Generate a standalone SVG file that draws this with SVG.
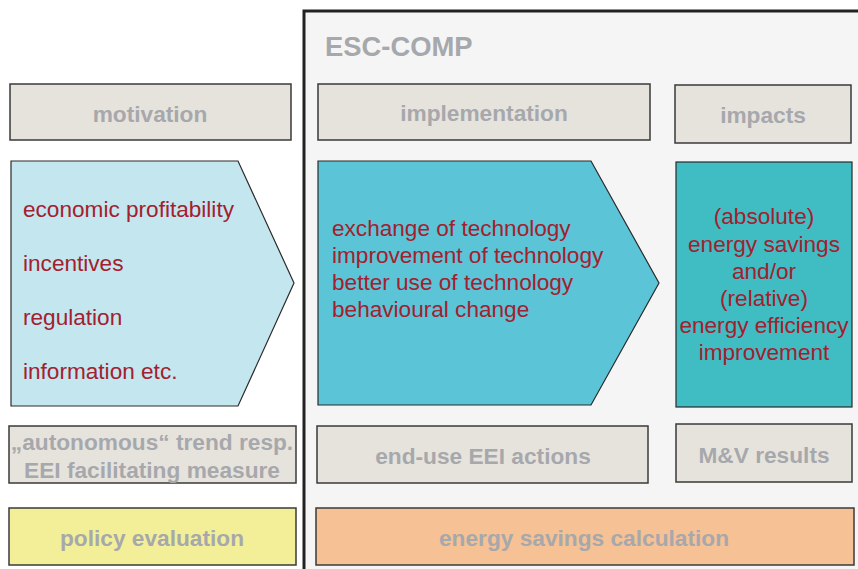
<svg xmlns="http://www.w3.org/2000/svg" width="858" height="569" viewBox="0 0 858 569">
<style>
.box{fill:#e6e3dd;stroke:#3a3a3a;stroke-width:1.5}
.hdr{font-family:"Liberation Sans",Arial,sans-serif;font-weight:bold;font-size:22.7px;fill:#a6a8ac;text-anchor:middle}
.red{font-family:"Liberation Sans",Arial,sans-serif;font-size:22.6px;fill:#a3202e}
.redc{font-family:"Liberation Sans",Arial,sans-serif;font-size:22.6px;fill:#a3202e;text-anchor:middle}
.shape{stroke:#2a2a2a;stroke-width:1.2}
</style>
<rect x="0" y="0" width="858" height="569" fill="#ffffff"/>
<g id="esc-comp">
<rect x="304" y="11" width="560" height="570" fill="#f5f5f5" stroke="#222" stroke-width="3"/>
<text x="325" y="56" font-family="Liberation Sans, Arial, sans-serif" font-weight="bold" font-size="27.4" fill="#a6a8ac">ESC-COMP</text>
</g>
<g id="motivation"><rect class="box" x="10" y="84" width="281" height="56"/><text class="hdr" x="150" y="122">motivation</text></g>
<g id="implementation"><rect class="box" x="318" y="84" width="332" height="56"/><text class="hdr" x="484" y="121">implementation</text></g>
<g id="impacts"><rect class="box" x="675" y="85" width="176" height="58"/><text class="hdr" x="763" y="123">impacts</text></g>
<g id="motivation-factors">
<polygon class="shape" points="11,161 238,161 294,283 238,406 11,406" fill="#c3e6ef"/>
<text class="red" x="23" y="217">economic profitability</text>
<text class="red" x="23" y="271">incentives</text>
<text class="red" x="23" y="325">regulation</text>
<text class="red" x="23" y="379">information etc.</text>
</g>
<g id="actions">
<polygon class="shape" points="318,161 591,161 659,283 591,405 318,405" fill="#5cc4d7"/>
<text class="red" x="332" y="236">exchange of technology</text>
<text class="red" x="332" y="263">improvement of technology</text>
<text class="red" x="332" y="290">better use of technology</text>
<text class="red" x="332" y="317">behavioural change</text>
</g>
<g id="savings">
<rect class="shape" x="676" y="162" width="176" height="245" fill="#40bcc3"/>
<text class="redc" x="764" y="224">(absolute)</text>
<text class="redc" x="764" y="252">energy savings</text>
<text class="redc" x="764" y="279">and/or</text>
<text class="redc" x="764" y="306">(relative)</text>
<text class="redc" x="764" y="333">energy efficiency</text>
<text class="redc" x="764" y="360">improvement</text>
</g>
<g id="autonomous"><rect class="box" x="9" y="426" width="287" height="57"/>
<text class="hdr" x="152" y="450">„autonomous“ trend resp.</text>
<text class="hdr" x="152" y="478">EEI facilitating measure</text></g>
<g id="end-use"><rect class="box" x="317" y="426" width="331" height="57"/><text class="hdr" x="483" y="464">end-use EEI actions</text></g>
<g id="mv-results"><rect class="box" x="676" y="424" width="176" height="58"/><text class="hdr" x="764" y="463">M&amp;V results</text></g>
<g id="policy-evaluation"><rect x="9" y="508" width="287" height="57" fill="#f3ef98" stroke="#3a3a3a" stroke-width="1.5"/><text class="hdr" x="152" y="546">policy evaluation</text></g>
<g id="energy-savings-calculation"><rect x="316" y="508" width="538" height="57" fill="#f6c194" stroke="#3a3a3a" stroke-width="1.5"/><text class="hdr" x="584" y="546">energy savings calculation</text></g>
<g id="connectors"></g>
</svg>
